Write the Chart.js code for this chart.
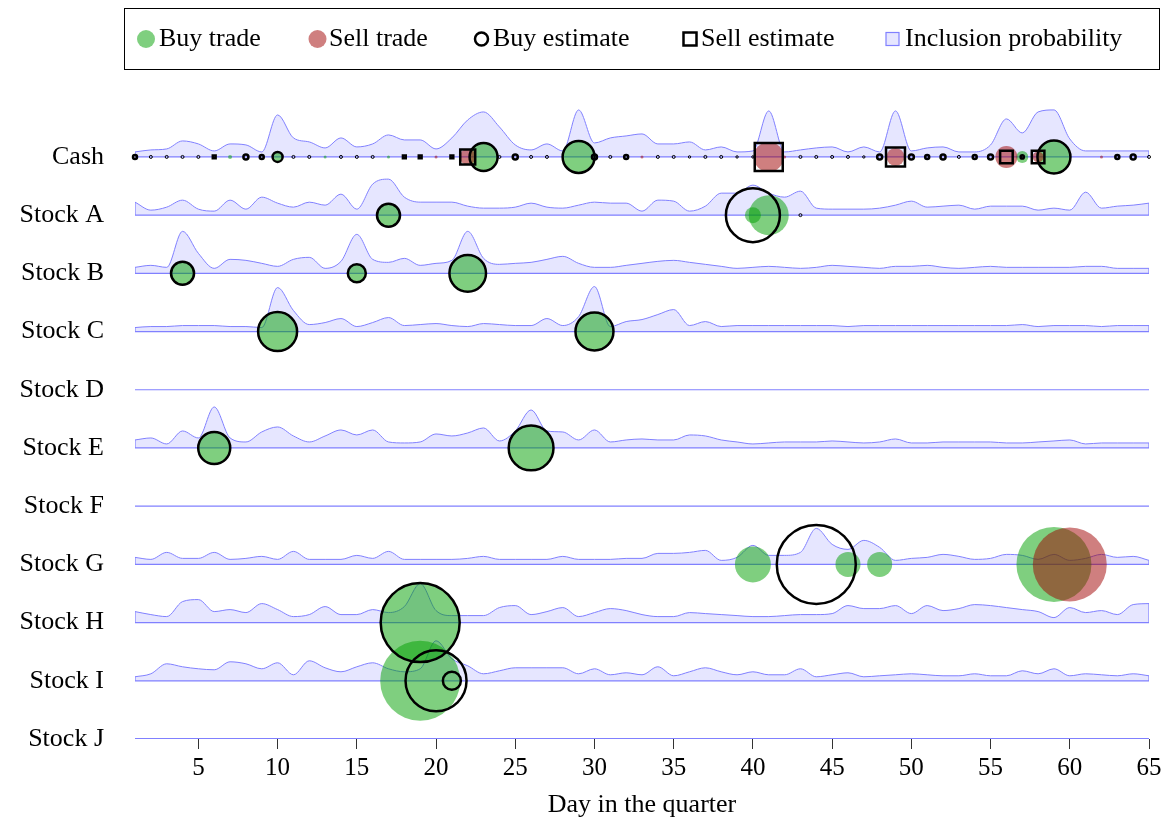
<!DOCTYPE html>
<html><head><meta charset="utf-8">
<script src="https://cdn.jsdelivr.net/npm/chart.js@4.4.1/dist/chart.umd.min.js"></script>
<style>html,body{margin:0;padding:0;background:#fff}</style>
</head><body>
<canvas id="c" width="1165" height="822"></canvas>
<script>
// ---------- categories / ticks ----------
const rowLabels = ['Cash','Stock A','Stock B','Stock C','Stock D','Stock E','Stock F','Stock G','Stock H','Stock I','Stock J'];
const dayTicks = [5,10,15,20,25,30,35,40,45,50,55,60,65];

// ---------- inclusion probability per day (days 1..65) ----------
const incCash = [5,7,8,16,13,6,13,12,5,42, 19,15,9,19,10,13,22,17,17,8, 19,37,45,30,12,7,13,6,47,14, 19,21,23,13,13,15,7,10,5,6, 46,5,7,9,10,5,10,5,46,6, 9,10,5,5,12,38,24,45,47,18, 6,6,6,6,6];
const incA    = [13,5,8,15,6,4,15,6,18,12, 8,13,10,21,6,31,36,18,13,13, 13,9,7,7,8,12,8,7,10,13, 12,12,4,15,14,4,9,22,22,30, 22,18,24,7,6,6,6,7,10,14, 8,9,10,6,9,9,9,5,7,5, 23,7,9,10,12];
const incB    = [6,8,6,42,20,5,14,13,10,7, 14,16,5,12,39,14,11,15,8,10, 13,42,15,9,10,11,14,17,10,6, 6,8,10,12,13,11,9,7,5,6, 7,6,5,6,8,7,6,5,7,7, 8,6,5,6,7,6,6,6,6,6, 7,7,5,5,5];
const incC    = [4,5,5,6,6,6,5,5,4,44, 21,7,9,13,5,9,14,6,7,8, 6,5,8,7,6,6,13,6,15,45, 5,10,12,17,22,6,10,5,6,6, 6,6,6,6,6,5,6,6,6,6, 6,6,6,6,6,6,7,5,6,6, 6,5,6,6,6];
const incE    = [8,10,4,17,10,41,10,6,16,21, 12,6,12,18,13,18,6,5,6,14, 12,15,20,7,17,38,17,16,8,18, 6,8,9,8,8,13,12,8,6,4, 5,6,6,6,7,6,5,6,9,5, 5,6,6,6,6,5,5,6,7,8, 4,5,5,5,5];
const incG    = [7,5,12,6,6,12,5,6,8,5, 13,5,5,5,9,6,13,5,5,5, 5,6,8,5,5,5,5,8,5,5, 5,6,6,11,11,12,14,4,7,19, 9,9,12,36,20,15,24,17,4,6, 7,10,8,5,6,10,9,5,10,4, 6,10,7,8,4];
const incH    = [11,8,6,21,23,11,13,10,19,13, 6,8,16,8,8,13,10,16,39,12, 7,7,7,15,17,8,11,15,6,10, 14,12,8,6,6,10,9,8,7,6, 6,7,8,8,9,17,14,14,17,9, 17,12,14,18,17,15,13,11,5,15, 10,12,8,18,19];
const incI    = [4,7,17,14,12,11,19,17,12,18, 6,20,13,9,14,18,12,9,12,40, 22,15,7,10,13,13,13,13,7,12, 6,8,6,14,5,9,13,9,6,9, 6,6,12,4,6,8,4,5,6,7, 6,5,5,7,5,5,10,7,12,5, 7,6,5,7,5];

// ---------- trades and estimates (day, size) ----------
const cashBuyTradeDay  = [7,10,13,17,23,29,57,59];
const cashBuyTradeSize = [2,5,1.5,1.5,14,16,6,16.5];
const cashSellTradeDay  = [19,20,22,33,41,42,49,56,58,62];
const cashSellTradeSize = [1.5,1.5,8,1.5,15,1.5,9,11,5.5,1.5];
const cashBuyEstDay  = [1,2,3,4,5,8,9,10,11,12,14,15,16,23,24,25,26,27,29,30,31,32,34,35,36,37,38,39,40,43,44,45,46,47,48,50,51,52,53,54,55,57,59,63,64,65];
const cashBuyEstSize = [2,1.5,1.5,1.5,1.5,2.5,2,5,1.5,1.5,1.5,1.5,1.5,14,1.5,2.5,1.5,1.5,16,2.5,1.5,2,1.5,1.5,1.2,1.5,1.5,1.2,1.2,1.5,1.5,1.5,1.5,1.2,2.5,2.5,2,2.5,1.5,2,2.5,1.6,16.5,2,2.5,1.5];
const cashSellEstDay  = [6,18,19,21,22,41,49,56,58];
const cashSellEstSize = [2,2,2,2,10.6,19.8,13.4,8.9,8.9];

const aBuyTradeDay = [17,40,41];   const aBuyTradeSize = [11.5,8,20];
const aBuyEstDay   = [17,40,43];   const aBuyEstSize   = [11.5,27,1.5];
const bBuyTradeDay = [4,15,22];    const bBuyTradeSize = [11.5,9,18.3];
const bBuyEstDay   = [4,15,22];    const bBuyEstSize   = [11.5,9,18.3];
const cBuyTradeDay = [10,30];      const cBuyTradeSize = [19.5,19];
const cBuyEstDay   = [10,30];      const cBuyEstSize   = [19.5,19];
const eBuyTradeDay = [6,26];       const eBuyTradeSize = [16,22.4];
const eBuyEstDay   = [6,26];       const eBuyEstSize   = [16,22.4];
const gBuyTradeDay = [40,46,48,59];const gBuyTradeSize = [18,12.5,12.5,37.5];
const gSellTradeDay = [60];        const gSellTradeSize = [37];
const gBuyEstDay   = [44];         const gBuyEstSize   = [39.5];
const hBuyTradeDay = [19];         const hBuyTradeSize = [39.5];
const hBuyEstDay   = [19];         const hBuyEstSize   = [39.5];
const iBuyTradeDay = [19];         const iBuyTradeSize = [40];
const iBuyEstDay   = [20,21];      const iBuyEstSize   = [30.5,9];

// ---------- styling ----------
const BLUE = 'rgb(128,128,255)';
const FILL = 'rgba(128,128,255,0.2)';
const GREEN = 'rgba(0,160,0,0.5)';
const RED = 'rgba(160,0,0,0.5)';
const incScale = 1/58.2;
const FONT = '"Liberation Serif", "Times New Roman", serif';

const incByRow = {0:incCash,1:incA,2:incB,3:incC,5:incE,7:incG,8:incH,9:incI};

const datasets = [];
Object.keys(incByRow).forEach(k => {
  const row = +k, vals = incByRow[k];
  datasets.push({type:'line', label:'inc'+row,
    data: vals.map((v,i)=>({x:i+1, y:row - v*incScale})),
    borderColor: BLUE, borderWidth: 1, backgroundColor: FILL,
    fill: {value: row}, pointRadius: 0, cubicInterpolationMode: 'monotone', order: 6});
});
rowLabels.forEach((_,row) => {
  const vals = incByRow[row];
  const first = vals ? vals[0] : 0, last = vals ? vals[vals.length-1] : 0;
  datasets.push({type:'line', label:'base'+row,
    data: [{x:1,y:row-first*incScale},{x:1,y:row},{x:65,y:row},{x:65,y:row-last*incScale}],
    borderColor: BLUE, borderWidth: row===10 ? 2.2 : 1.2, pointRadius: 0, tension: 0, fill: false, order: 5});
});

function bubbles(list){
  const out = [];
  list.forEach(([row,d,s]) => d.forEach((x,i) => out.push({x:x, y:row, r:s[i]})));
  return out;
}
const buyTrades = bubbles([[0,cashBuyTradeDay,cashBuyTradeSize],[1,aBuyTradeDay,aBuyTradeSize],[2,bBuyTradeDay,bBuyTradeSize],[3,cBuyTradeDay,cBuyTradeSize],[5,eBuyTradeDay,eBuyTradeSize],[7,gBuyTradeDay,gBuyTradeSize],[8,hBuyTradeDay,hBuyTradeSize],[9,iBuyTradeDay,iBuyTradeSize]]);
const sellTrades = bubbles([[0,cashSellTradeDay,cashSellTradeSize],[7,gSellTradeDay,gSellTradeSize]]);
const buyEsts = bubbles([[0,cashBuyEstDay,cashBuyEstSize],[1,aBuyEstDay,aBuyEstSize],[2,bBuyEstDay,bBuyEstSize],[3,cBuyEstDay,cBuyEstSize],[5,eBuyEstDay,eBuyEstSize],[7,gBuyEstDay,gBuyEstSize],[8,hBuyEstDay,hBuyEstSize],[9,iBuyEstDay,iBuyEstSize]]);
const sellEsts = bubbles([[0,cashSellEstDay,cashSellEstSize]]);

datasets.push({type:'bubble', label:'Buy trade', data: buyTrades, backgroundColor: GREEN, borderWidth: 0, order: 3, clip: false});
datasets.push({type:'bubble', label:'Sell trade', data: sellTrades, backgroundColor: RED, borderWidth: 0, order: 2, clip: false});
datasets.push({type:'bubble', label:'Buy estimate', data: buyEsts, backgroundColor: 'rgba(0,0,0,0)', borderColor: '#000',
  borderWidth: c => (c.raw && c.raw.r < 1.6) ? 1 : 2.5, order: 1, clip: false});
datasets.push({type:'bubble', label:'Sell estimate', data: sellEsts, pointStyle: 'rect', backgroundColor: 'rgba(0,0,0,0)', borderColor: '#000',
  borderWidth: 2.5, order: 0, clip: false});

const legendPlugin = {
  id: 'boxLegend',
  afterDraw(chart){
    const ctx = chart.ctx;
    ctx.save();
    ctx.lineWidth = 1; ctx.strokeStyle = '#000';
    ctx.strokeRect(124.5, 8.5, 1035, 61);
    const cy = 39;
    ctx.font = '26px ' + FONT; ctx.fillStyle = '#000'; ctx.textBaseline = 'alphabetic'; ctx.textAlign = 'left';
    ctx.beginPath(); ctx.arc(146, cy, 9, 0, Math.PI*2); ctx.fillStyle = GREEN; ctx.fill();
    ctx.fillStyle = '#000'; ctx.fillText('Buy trade', 159, 46);
    ctx.beginPath(); ctx.arc(317.5, cy, 9, 0, Math.PI*2); ctx.fillStyle = RED; ctx.fill();
    ctx.fillStyle = '#000'; ctx.fillText('Sell trade', 329, 46);
    ctx.beginPath(); ctx.arc(481.5, cy, 6.5, 0, Math.PI*2); ctx.lineWidth = 2.5; ctx.strokeStyle = '#000'; ctx.stroke();
    ctx.fillText('Buy estimate', 493, 46);
    ctx.strokeRect(683.5, 32.5, 13, 13);
    ctx.fillText('Sell estimate', 701, 46);
    ctx.fillStyle = 'rgb(230,230,255)'; ctx.fillRect(886, 32.5, 13, 13);
    ctx.lineWidth = 1.2; ctx.strokeStyle = BLUE; ctx.strokeRect(886, 32.5, 13, 13);
    ctx.fillStyle = '#000'; ctx.fillText('Inclusion probability', 905, 46);
    ctx.restore();
  }
};

Chart.defaults.font.family = FONT;
Chart.defaults.font.size = 25;
Chart.defaults.color = '#000';

new Chart(document.getElementById('c'), {
  type: 'line',
  data: { datasets },
  options: {
    responsive: false, animation: false, events: [],
    layout: { autoPadding: false, padding: { top: 90, left: 0, right: 16, bottom: 0 } },
    plugins: { legend: { display: false }, tooltip: { enabled: false } },
    scales: {
      x: { type: 'linear', min: 1, max: 65,
        afterBuildTicks: s => { s.ticks = dayTicks.map(v => ({value: v})); },
        afterFit: s => { s.height = 83; s.paddingRight = 0; s.paddingLeft = 0; },
        grid: { display: true, drawOnChartArea: false, drawTicks: true, tickLength: 10, color: '#333', lineWidth: 1 },
        border: { display: false },
        ticks: { padding: 4, color: '#000', font: { size: 25 }, maxRotation: 0, autoSkip: false },
        title: { display: true, text: 'Day in the quarter', color: '#000', font: { size: 26 }, padding: { top: 0, bottom: 1 } } },
      y: { type: 'linear', reverse: true, min: -1.15, max: 10,
        afterBuildTicks: s => { s.ticks = rowLabels.map((_, i) => ({value: i})); },
        afterFit: s => { s.width = 135; s.paddingTop = 0; s.paddingBottom = 0; },
        grid: { display: false, drawTicks: false }, border: { display: false },
        ticks: { padding: 31, color: '#000', font: { size: 26 }, autoSkip: false, callback: v => rowLabels[v] } }
    }
  },
  plugins: [legendPlugin]
});
</script>
</body></html>
